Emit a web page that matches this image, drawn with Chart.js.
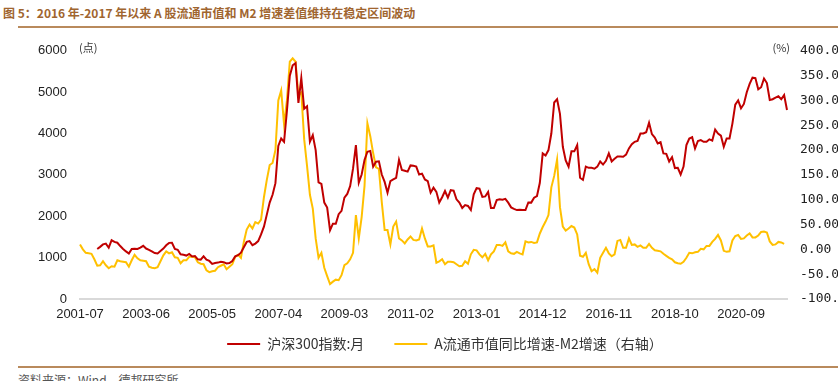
<!DOCTYPE html>
<html><head><meta charset="utf-8">
<script src="https://cdn.jsdelivr.net/npm/chart.js@4.4.1/dist/chart.umd.min.js"></script>
<style>
html,body{margin:0;padding:0;width:838px;height:381px;overflow:hidden;background:#fff;}
#title{position:absolute;left:3px;top:4px;font:bold 12px "Noto Sans CJK SC",sans-serif;color:#a0652f;white-space:nowrap;}
.rule{position:absolute;left:18px;width:820px;height:2px;background:#b98a5c;}
#src{position:absolute;left:18px;top:371px;font:12px "Noto Sans CJK SC",sans-serif;color:#555;white-space:nowrap;}
#wrap{position:absolute;left:0;top:30px;width:860px;height:331px;}
</style></head>
<body>
<div id="title">图 5：2016 年-2017 年以来 A 股流通市值和 M2 增速差值维持在稳定区间波动</div>
<div class="rule" style="top:26px"></div>
<div id="wrap"><canvas id="c"></canvas></div>
<div class="rule" style="top:366px"></div>
<div id="src">资料来源：Wind，德邦研究所</div>
<script>
// Months 2001-07 .. 2022-01
const months = [];
for (let y = 2001, m = 7; y < 2022 || (y === 2022 && m <= 1); ) {
  months.push(y + '-' + String(m).padStart(2, '0'));
  m++; if (m > 12) { m = 1; y++; }
}
const xTickLabels = ['2001-07','2003-06','2005-05','2007-04','2009-03','2011-02','2013-01','2014-12','2016-11','2018-10','2020-09'];
const seriesNames = ['沪深300指数:月', 'A流通市值同比增速-M2增速（右轴）'];

// 沪深300指数 (left axis), starts 2002-01
const csi300 = [null,null,null,null,null,null,
1210,1260,1320,1340,1240,1420,1380,1360,1280,1210,1150,1100,
1210,1215,1210,1240,1285,1220,1190,1150,1110,1100,1160,1220,
1300,1357,1360,1210,1190,1080,1070,1050,1090,1030,1040,960,
950,1030,950,920,850,870,880,900,890,860,870,920,
1030,1060,1120,1250,1380,1400,1300,1340,1400,1560,1750,2040,
2330,2520,2800,3700,3880,3800,4550,5400,5650,5700,4740,5340,
4600,4660,3800,3960,3600,2820,2780,2330,2210,1660,1820,1820,
2050,2130,2450,2540,2730,3150,3720,2810,3010,3360,3560,3580,
3200,3320,3330,3010,2830,2570,2850,2890,2930,3365,3120,3100,
3080,3230,3220,3200,3010,3030,2890,2850,2570,2690,2590,2333,
2460,2610,2450,2630,2620,2410,2330,2200,2270,2250,2150,2530,
2680,2670,2470,2480,2590,2200,2200,2390,2410,2400,2420,2330,
2215,2180,2150,2160,2150,2150,2333,2330,2450,2490,2810,3520,
3470,3600,4000,4750,4830,4475,3680,3350,3200,3570,3570,3720,
2930,2880,3200,3170,3170,3150,3200,3325,3250,3340,3520,3325,
3390,3445,3445,3440,3490,3640,3740,3800,3820,4000,4000,4030,
4260,3985,3900,3760,3790,3520,3510,3325,3430,3165,3170,3010,
3200,3720,3880,3910,3640,3820,3840,3800,3800,3860,3830,4095,
4000,3950,3680,3880,3880,4240,4700,4800,4610,4715,5000,5200,
5350,5340,5070,5120,5330,5220,4810,4830,4870,4900,4830,4930,4570];

// A流通市值同比增速-M2增速 (%, right axis)
const spread = [
10,0,-7,-8,-9,-20,-33,-32,-24,-32,-38,-34,
-35,-22,-24,-25,-26,-35,-22,-11,-18,-22,-23,-24,
-35,-37,-38,-36,-24,-12,-4,-8,-6,-16,-17,-28,
-22,-22,-15,-15,-16,-26,-29,-30,-42,-46,-44,-43,
-36,-33,-30,-40,-35,-30,-15,-11,-17,15,40,50,
42,55,52,60,105,140,170,174,200,300,320,252,
300,378,385,378,310,316,222,168,110,82,22,-17,
-7,-37,-54,-70,-65,-61,-62,-52,-32,-28,-20,-7,
69,22,65,128,254,228,194,165,162,95,39,39,
10,46,56,22,18,12,20,26,19,18,20,42,
22,6,6,8,-27,-24,-20,-30,-25,-25,-26,-30,
-34,-33,-24,-29,-10,-1,-2,-10,-16,-9,-22,-10,
-4,9,9,7,14,-4,-8,-9,-5,-8,-10,16,
14,15,13,14,32,45,56,69,125,148,181,85,
46,38,42,47,44,30,-13,-15,-7,-30,-44,-40,
-47,-17,-7,3,-8,-14,-10,17,19,3,3,22,
9,10,5,8,3,3,11,3,-2,-3,-4,-9,
-13,-17,-20,-26,-28,-29,-25,-17,-7,-8,-6,-5,
1,0,7,7,15,21,29,18,-3,-5,-4,18,
27,29,21,22,28,32,24,24,28,35,36,34,
16,9,10,15,14,11];

const unitPlugin = {
  id: 'units',
  afterLayout(chart) {
    if (chart.legend) { chart.legend.left += 15; chart.legend.right += 15; }
  },
  afterDraw(chart) {
    const {ctx, chartArea} = chart;
    ctx.save();
    ctx.fillStyle = '#333';
    ctx.font = '11px "Noto Sans CJK SC"';
    ctx.textBaseline = 'middle';
    ctx.textAlign = 'left';
    ctx.fillText('(点)', chartArea.left - 1, chartArea.top - 3);
    ctx.textAlign = 'right';
    ctx.fillText('(%)', chartArea.right + 3, chartArea.top - 3);
    ctx.restore();
  }
};

new Chart(document.getElementById('c'), {
  type: 'line',
  data: {
    labels: months,
    datasets: [
      {label: seriesNames[0], data: csi300, yAxisID: 'y', borderColor: '#c00000', backgroundColor: '#c00000', borderWidth: 2, pointRadius: 0, tension: 0},
      {label: seriesNames[1], data: spread, yAxisID: 'y1', borderColor: '#ffc000', backgroundColor: '#ffc000', borderWidth: 2, pointRadius: 0, tension: 0}
    ]
  },
  options: {
    responsive: true,
    maintainAspectRatio: false,
    animation: false,
    layout: {padding: {top: 16, left: 0, right: 0, bottom: 0}},
    plugins: {
      tooltip: {enabled: false},
      legend: {
        position: 'bottom',
        labels: {
          boxWidth: 33, boxHeight: 2, padding: 30,
          color: '#333',
          font: {family: '"Noto Sans CJK SC"', size: 14},
          generateLabels(chart) {
            const items = Chart.defaults.plugins.legend.labels.generateLabels(chart);
            items.forEach(it => { it.lineWidth = 0; it.fillStyle = it.strokeStyle; });
            return items;
          }
        }
      }
    },
    scales: {
      x: {
        offset: false,
        grid: {display: false, drawTicks: false},
        border: {display: true, color: '#d9d9d9', width: 2},
        ticks: {
          autoSkip: false, maxRotation: 0, minRotation: 0, padding: 8,
          color: '#222', font: {family: '"Liberation Sans"', size: 13},
          callback(value, index) { const l = months[index]; return xTickLabels.includes(l) ? l : ''; }
        },
        afterFit(s) { s.height = 8; s._computeLabelArea = () => undefined; }
      },
      y: {
        position: 'left', min: 0, max: 6000,
        grid: {display: false, drawTicks: false},
        border: {display: false},
        ticks: {stepSize: 1000, padding: 13, color: '#222', font: {family: '"Liberation Sans"', size: 13},
          callback(v) { return String(v); }},
        afterFit(s) { s.width = 80; }
      },
      y1: {
        position: 'right', min: -100, max: 400,
        grid: {display: false, drawTicks: false},
        border: {display: false},
        ticks: {stepSize: 50, padding: 13, color: '#222', font: {family: '"DejaVu Sans Mono"', size: 13},
          callback(v) { return Number(v).toFixed(2); }},
        afterFit(s) { s.width = 73; }
      }
    }
  },
  plugins: [unitPlugin]
});
</script>
</body></html>
